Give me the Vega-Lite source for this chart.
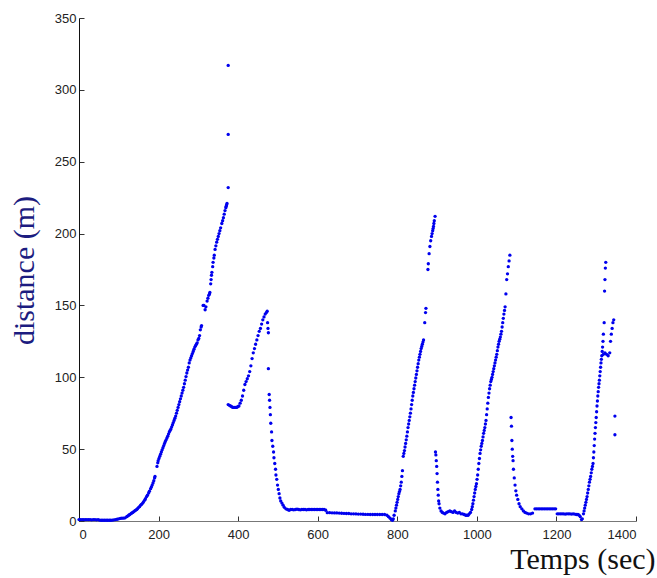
{
  "$schema": "https://vega.github.io/schema/vega-lite/v6.json",
  "width": 557,
  "height": 503,
  "autosize": {"type": "none"},
  "padding": {"left": 79, "top": 18, "right": 21, "bottom": 57},
  "background": "white",
  "config": {"view": {"stroke": null}},
  "data": {"values": [
    {"t":0,"d":1},{"t":4,"d":1},{"t":8,"d":1},{"t":12,"d":1},{"t":16,"d":1},{"t":20,"d":1},{"t":24,"d":1},{"t":28,"d":1},{"t":32,"d":0.8},{"t":36,"d":1},{"t":40,"d":1},{"t":44,"d":0.8},{"t":48,"d":1},{"t":52,"d":0.6},{"t":56,"d":0.5},{"t":60,"d":0.5},{"t":64,"d":0.5},{"t":68,"d":0.5},{"t":72,"d":0.5},{"t":76,"d":0.5},{"t":80,"d":0.5},{"t":84,"d":0.6},{"t":88,"d":0.8},{"t":92,"d":1},{"t":96,"d":1.2},{"t":100,"d":1.5},{"t":104,"d":1.8},{"t":108,"d":2},{"t":112,"d":2},{"t":116,"d":2.2},
    {"t":120,"d":3},{"t":122,"d":3.4},{"t":125,"d":4},{"t":127,"d":4.4},{"t":130,"d":5},{"t":132,"d":5.4},{"t":135,"d":6},{"t":137,"d":6.4},{"t":140,"d":7},{"t":142,"d":7.4},{"t":145,"d":8},{"t":147,"d":8.6},{"t":150,"d":9.5},{"t":152,"d":10},{"t":155,"d":11},{"t":157,"d":11.6},{"t":160,"d":12.5},{"t":162,"d":13.3},{"t":165,"d":14.5},{"t":167,"d":15.5},{"t":170,"d":17},{"t":172,"d":18},{"t":175,"d":19.5},{"t":177,"d":20.7},{"t":180,"d":22.5},{"t":182,"d":23.7},{"t":184,"d":25},{"t":186,"d":26.5},{"t":188,"d":28},{"t":190,"d":30},{"t":191,"d":31},
    {"t":196,"d":38},{"t":198,"d":40.5},{"t":199,"d":42},{"t":201,"d":43.5},{"t":203,"d":45},{"t":205,"d":46.5},{"t":207,"d":48},{"t":209,"d":49.5},{"t":211,"d":51},{"t":213,"d":52.5},{"t":215,"d":54},{"t":217,"d":55.3},{"t":219,"d":56.5},{"t":221,"d":57.8},{"t":223,"d":59},{"t":225,"d":60.5},{"t":227,"d":62},{"t":229,"d":63},{"t":231,"d":64},{"t":233,"d":65.5},{"t":235,"d":67},{"t":237,"d":68.5},{"t":239,"d":70},{"t":241,"d":71.5},{"t":243,"d":73},{"t":245,"d":75},{"t":247,"d":77},{"t":249,"d":79},{"t":251,"d":81},{"t":253,"d":83},{"t":255,"d":85},{"t":257,"d":87},{"t":259,"d":89},{"t":261,"d":91},{"t":263,"d":93},{"t":265,"d":95.5},{"t":267,"d":98},{"t":269,"d":100.5},{"t":271,"d":103},{"t":273,"d":105},{"t":275,"d":107},{"t":277,"d":110},{"t":279,"d":112},{"t":281,"d":113.5},{"t":283,"d":115},{"t":285,"d":116.5},{"t":287,"d":118},{"t":289,"d":119.5},{"t":291,"d":121},{"t":293,"d":122},{"t":295,"d":123},{"t":297,"d":124},{"t":299,"d":126},{"t":301,"d":127},{"t":303,"d":129},{"t":305,"d":133},{"t":307,"d":135},{"t":308,"d":136},
    {"t":312,"d":150},{"t":314,"d":150},{"t":317,"d":147},{"t":319,"d":149},{"t":322,"d":153},{"t":324,"d":155},{"t":326,"d":157},{"t":328,"d":158},{"t":329,"d":159},{"t":331,"d":165},{"t":332,"d":168},{"t":333,"d":171},{"t":334,"d":173},{"t":336,"d":177},{"t":337,"d":180},{"t":339,"d":183},{"t":340,"d":185},{"t":342,"d":189},{"t":344,"d":191.5},{"t":346,"d":194},{"t":348,"d":196},{"t":350,"d":198},{"t":352,"d":200},{"t":354,"d":202},{"t":356,"d":204},{"t":359,"d":207},{"t":361,"d":209},{"t":363,"d":211},{"t":365,"d":213.5},{"t":367,"d":216},{"t":369,"d":218},{"t":370,"d":219},{"t":371,"d":220},{"t":372,"d":221},
    {"t":375,"d":317},{"t":375,"d":269},{"t":375,"d":232},
    {"t":375,"d":81},{"t":378,"d":80.5},{"t":381,"d":80},{"t":384,"d":79.5},{"t":387,"d":79},{"t":390,"d":79},{"t":393,"d":79},{"t":396,"d":79},{"t":399,"d":79.5},{"t":402,"d":80},{"t":405,"d":82},{"t":408,"d":84},{"t":411,"d":87},{"t":414,"d":91},{"t":417,"d":95},{"t":420,"d":97},{"t":423,"d":99},{"t":426,"d":101},{"t":429,"d":104},{"t":432,"d":108},{"t":435,"d":113},{"t":438,"d":117},{"t":441,"d":120},{"t":444,"d":123},{"t":447,"d":126},{"t":450,"d":129},{"t":453,"d":132},{"t":456,"d":134},{"t":459,"d":137},{"t":462,"d":140},{"t":465,"d":142},{"t":468,"d":144},{"t":471,"d":145},{"t":473,"d":146},
    {"t":474,"d":138},{"t":475,"d":134},{"t":476,"d":131},{"t":476,"d":106},{"t":478,"d":88},{"t":479,"d":84},{"t":480,"d":79},{"t":481,"d":74},{"t":482,"d":68},{"t":484,"d":62},{"t":485,"d":56},{"t":487,"d":52},{"t":489,"d":48},{"t":490,"d":44},{"t":492,"d":40},{"t":494,"d":36},{"t":495,"d":32},{"t":497,"d":29},{"t":499,"d":25},{"t":501,"d":22},{"t":503,"d":19},{"t":505,"d":16},{"t":507,"d":14},{"t":510,"d":12.5},{"t":513,"d":11},{"t":516,"d":9.5},{"t":520,"d":8.5},{"t":524,"d":8},
    {"t":528,"d":7.5},{"t":532,"d":8},{"t":536,"d":8},{"t":540,"d":7.8},{"t":544,"d":8},{"t":548,"d":8.2},{"t":552,"d":8},{"t":556,"d":7.8},{"t":560,"d":8},{"t":564,"d":8},{"t":568,"d":8},{"t":572,"d":7.8},{"t":576,"d":8},{"t":580,"d":8},{"t":584,"d":8},{"t":588,"d":8},{"t":592,"d":8},{"t":596,"d":8},{"t":600,"d":8},{"t":604,"d":8},{"t":608,"d":8},{"t":612,"d":8},{"t":616,"d":8},{"t":620,"d":7.5},
    {"t":624,"d":5.8},{"t":630,"d":5.8},{"t":636,"d":5.7},{"t":642,"d":5.6},{"t":648,"d":5.6},{"t":654,"d":5.5},{"t":660,"d":5.4},{"t":666,"d":5.3},{"t":672,"d":5.2},{"t":678,"d":5.2},{"t":684,"d":5},{"t":690,"d":5},{"t":696,"d":4.9},{"t":702,"d":4.8},{"t":708,"d":4.8},{"t":714,"d":4.7},{"t":720,"d":4.6},{"t":726,"d":4.6},{"t":732,"d":4.5},{"t":738,"d":4.5},{"t":744,"d":4.5},{"t":750,"d":4.5},{"t":756,"d":4.5},{"t":762,"d":4.5},{"t":768,"d":4.5},{"t":774,"d":4},{"t":778,"d":3},{"t":782,"d":2},{"t":785,"d":1},{"t":788,"d":0.5},{"t":790,"d":1.5},
    {"t":792,"d":4},{"t":795,"d":7},{"t":796.5,"d":9},{"t":798,"d":11},{"t":799.5,"d":13},{"t":801,"d":15},{"t":802.5,"d":17},{"t":804,"d":19},{"t":805.5,"d":20.5},{"t":807,"d":22},{"t":808.5,"d":24.5},{"t":810,"d":27},{"t":811.5,"d":31},{"t":813,"d":35},{"t":815,"d":45},{"t":816.5,"d":47},{"t":818,"d":49},{"t":819.5,"d":51.5},{"t":821,"d":54},{"t":822.5,"d":56.5},{"t":824,"d":59},{"t":825.5,"d":62},{"t":827,"d":65},{"t":828.5,"d":67.5},{"t":830,"d":70},{"t":831.5,"d":72.5},{"t":833,"d":75},{"t":834.5,"d":78},{"t":836,"d":81},{"t":837.5,"d":84},{"t":839,"d":87},{"t":840.5,"d":89.5},{"t":842,"d":92},{"t":843.5,"d":94.5},{"t":845,"d":97},{"t":846.5,"d":99.5},{"t":848,"d":102},{"t":849.5,"d":104.5},{"t":851,"d":107},{"t":852.5,"d":109.5},{"t":854,"d":112},{"t":855.5,"d":114},{"t":857,"d":116},{"t":858.5,"d":118},{"t":860,"d":120},{"t":861.5,"d":121.5},{"t":863,"d":123},{"t":864.5,"d":124.5},{"t":866,"d":126},{"t":869,"d":138},{"t":871,"d":145},{"t":872,"d":148},{"t":877,"d":175},{"t":878,"d":179},{"t":880,"d":186},{"t":882,"d":191},{"t":884,"d":195},{"t":886,"d":198},{"t":887.5,"d":200},{"t":889,"d":202},{"t":890,"d":203.5},{"t":891,"d":205},{"t":892,"d":207},{"t":893,"d":209},{"t":895,"d":212},
    {"t":896,"d":48},{"t":897,"d":46},{"t":898,"d":42},{"t":899,"d":38},{"t":900,"d":33},{"t":901,"d":27},{"t":902,"d":22},{"t":903,"d":18},{"t":904,"d":14},{"t":905,"d":12},{"t":907,"d":9},{"t":910,"d":7},{"t":913,"d":6},{"t":916,"d":5.5},{"t":920,"d":5},{"t":924,"d":6},{"t":928,"d":6.5},{"t":932,"d":7},{"t":936,"d":6.5},{"t":940,"d":6},{"t":944,"d":7},{"t":948,"d":6},{"t":952,"d":5.5},{"t":956,"d":6},{"t":960,"d":5},{"t":964,"d":5},{"t":968,"d":4.5},{"t":972,"d":4},
    {"t":975,"d":4},{"t":978,"d":4},{"t":981,"d":5},{"t":984,"d":6},{"t":987,"d":8},{"t":988.5,"d":10},{"t":990,"d":12},{"t":991.5,"d":14.5},{"t":993,"d":17},{"t":994.5,"d":19.5},{"t":996,"d":22},{"t":997.5,"d":24},{"t":999,"d":26},{"t":1000.5,"d":29},{"t":1002,"d":32},{"t":1003.5,"d":36},{"t":1005,"d":40},{"t":1006.5,"d":43.5},{"t":1008,"d":47},{"t":1009.5,"d":49.5},{"t":1011,"d":52},{"t":1012.5,"d":54},{"t":1014,"d":56},{"t":1015.5,"d":58.5},{"t":1017,"d":61},{"t":1018.5,"d":63},{"t":1020,"d":65},{"t":1021.5,"d":67.5},{"t":1023,"d":70},{"t":1024.5,"d":74},{"t":1026,"d":78},{"t":1027.5,"d":82},{"t":1029,"d":86},{"t":1030.5,"d":89},{"t":1032,"d":92},{"t":1033.5,"d":94.5},{"t":1035,"d":97},{"t":1036.5,"d":98.5},{"t":1038,"d":100},{"t":1039.5,"d":102},{"t":1041,"d":104},{"t":1042.5,"d":106},{"t":1044,"d":108},{"t":1045.5,"d":110},{"t":1047,"d":112},{"t":1048.5,"d":114},{"t":1050,"d":116},{"t":1051.5,"d":118.5},{"t":1053,"d":121},{"t":1054.5,"d":123},{"t":1056,"d":125},{"t":1057.5,"d":126.5},{"t":1059,"d":128},{"t":1060.5,"d":130},{"t":1062,"d":132},{"t":1063.5,"d":135},{"t":1065,"d":138},{"t":1066.5,"d":141},{"t":1068,"d":144},{"t":1069.5,"d":146.5},{"t":1071,"d":149},{"t":1073,"d":158},{"t":1075,"d":168},{"t":1077,"d":172},{"t":1079,"d":177},{"t":1081,"d":181},{"t":1083,"d":185},
    {"t":1086,"d":72},{"t":1087,"d":66},{"t":1088,"d":56},{"t":1089,"d":50},{"t":1090,"d":45},{"t":1091,"d":42},{"t":1092,"d":36},{"t":1094,"d":30},{"t":1096,"d":25},{"t":1098,"d":21},{"t":1100,"d":18},{"t":1103,"d":15},{"t":1106,"d":12},{"t":1109,"d":10},{"t":1113,"d":8.5},{"t":1117,"d":7},{"t":1121,"d":6},{"t":1125,"d":5.5},{"t":1130,"d":5},{"t":1135,"d":5},{"t":1140,"d":5.5},
    {"t":1146,"d":8.5},{"t":1150,"d":8.5},{"t":1154,"d":8.5},{"t":1158,"d":8.5},{"t":1162,"d":8.5},{"t":1166,"d":8.5},{"t":1170,"d":8.5},{"t":1174,"d":8.5},{"t":1178,"d":8.5},{"t":1182,"d":8.5},{"t":1186,"d":8.5},{"t":1190,"d":8.5},{"t":1194,"d":8.5},{"t":1198,"d":8.5},
    {"t":1202,"d":5},{"t":1206,"d":5},{"t":1210,"d":5},{"t":1214,"d":5},{"t":1218,"d":5},{"t":1222,"d":4.8},{"t":1226,"d":5},{"t":1230,"d":5},{"t":1234,"d":5},{"t":1238,"d":4.8},{"t":1242,"d":5},{"t":1246,"d":4.8},{"t":1250,"d":4.5},{"t":1254,"d":4.5},{"t":1257,"d":4},{"t":1260,"d":3},{"t":1263,"d":1},{"t":1265,"d":1.5},
    {"t":1268,"d":5},{"t":1269.5,"d":7},{"t":1271,"d":9},{"t":1272.5,"d":11},{"t":1274,"d":13},{"t":1275.5,"d":15},{"t":1277,"d":17},{"t":1278.5,"d":19.5},{"t":1280,"d":22},{"t":1281.5,"d":24.5},{"t":1283,"d":27},{"t":1284.5,"d":29},{"t":1286,"d":31},{"t":1287.5,"d":33.5},{"t":1289,"d":36},{"t":1290.5,"d":38},{"t":1292,"d":40},{"t":1293,"d":44},{"t":1294,"d":48},{"t":1295,"d":52.5},{"t":1296,"d":57},{"t":1297,"d":61},{"t":1298,"d":65},{"t":1299,"d":68.5},{"t":1300,"d":72},{"t":1301,"d":76},{"t":1302,"d":80},{"t":1303,"d":83.5},{"t":1304,"d":87},{"t":1305,"d":90},{"t":1306,"d":93},{"t":1307,"d":95.5},{"t":1308,"d":98},{"t":1309,"d":101},{"t":1310,"d":104},{"t":1311,"d":107},{"t":1312,"d":110},{"t":1313,"d":112.5},{"t":1314,"d":115},{"t":1315,"d":118},{"t":1316,"d":121},{"t":1317,"d":125},{"t":1318,"d":130},{"t":1320,"d":138},{"t":1321,"d":160},{"t":1322,"d":168},{"t":1323,"d":176},{"t":1324,"d":180},
    {"t":1318,"d":116},{"t":1322,"d":117},{"t":1326,"d":116},{"t":1330,"d":115},{"t":1334,"d":117},{"t":1336,"d":125},{"t":1338,"d":130},{"t":1340,"d":134},{"t":1342,"d":138},{"t":1344,"d":140},
    {"t":1347,"d":73},{"t":1347,"d":60}
  ]},
  "mark": {"type": "point", "filled": true, "shape": "circle", "size": 11, "color": "#0000ee", "opacity": 1},
  "encoding": {
    "x": {
      "field": "t", "type": "quantitative",
      "scale": {"domain": [0, 1400], "nice": false, "zero": false},
      "axis": {
        "title": "Temps (sec)", "values": [0,200,400,600,800,1000,1200,1400], "format": "d",
        "grid": false, "domainColor": "#777", "tickColor": "#333", "tickSize": -5,
        "labelFont": "Liberation Sans", "labelFontSize": 13, "labelColor": "#222", "labelPadding": 12,
        "titleFont": "Liberation Serif", "titleFontSize": 30, "titleFontWeight": "normal", "titleColor": "#111",
        "titleAlign": "right", "titleAnchor": "end", "titleX": 576, "titleY": 47, "titleBaseline": "alphabetic"
      }
    },
    "y": {
      "field": "d", "type": "quantitative",
      "scale": {"domain": [0, 350], "nice": false},
      "axis": {
        "title": "distance (m)", "values": [0,50,100,150,200,250,300,350],
        "grid": false, "domainColor": "#111", "tickColor": "#333", "tickSize": -5,
        "labelFont": "Liberation Sans", "labelFontSize": 13, "labelColor": "#222", "labelPadding": 8,
        "titleFont": "Liberation Serif", "titleFontSize": 30, "titleFontWeight": "normal", "titleColor": "#1c1c80",
        "titleAngle": -90, "titleX": -46, "titleY": 252, "titleAlign": "center", "titleBaseline": "alphabetic"
      }
    }
  }
}
